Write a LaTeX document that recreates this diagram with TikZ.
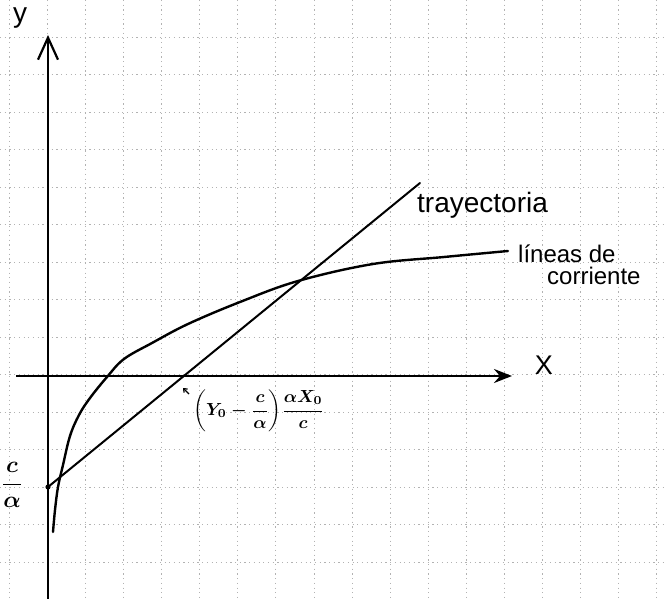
\documentclass[tikz,border=0pt]{standalone}
\usepackage{graphicx}
\usepackage{fontspec}
\setmainfont{Liberation Sans}
\usetikzlibrary{arrows.meta}
\begin{document}
\begin{tikzpicture}[x=1pt,y=1pt,
  gridline/.style={gray!60, line width=0.6pt, dash pattern=on 1.2pt off 3.5pt},
  axisline/.style={line width=2.6pt},
  curveline/.style={line width=2.4pt, line cap=round},
  trajline/.style={line width=2pt, line cap=round},
  hand/.style={inner sep=0pt}]
\useasboundingbox (0,0) rectangle (665,-599);
\fill[white] (0,0) rectangle (665,-599);
% grid
\foreach \k in {0,...,17} \draw[gridline] ({9+38.1*\k},0) -- ({9+38.1*\k},-599);
\foreach \k in {0,...,15} \draw[gridline] (0,{-37-37.5*\k}) -- (665,{-37-37.5*\k});
% axes
\coordinate (ybot) at (48,-599);
\coordinate (ytop) at (48,-35);
\draw[axisline, -{Straight Barb[length=22pt,width=20pt,line width=2.2pt]}] (ybot) -- (ytop);
\coordinate (xl) at (16,-376);
\coordinate (xr) at (512,-376);
\draw[axisline, -{Stealth[length=18pt,width=14pt,inset=6pt]}] (xl) -- (xr);
% trajectory
\coordinate (P) at (48,-487);
\coordinate (T) at (420,-183);
\draw[trajline] (P) -- (T);
\fill (P) circle (2.6);
% streamline
\draw[curveline] plot[smooth, tension=0.6] coordinates {(53,-532) (55,-510) (58,-487) (63,-465) (70,-436) (79,-415) (90,-398) (107,-377) (124,-359) (152,-343) (188,-324) (240,-302) (298,-281) (373,-264) (444,-257) (508,-251)};
% labels
\node[hand, font=\fontsize{28}{28}\selectfont] (ylab) at (20,-18) {y};
\node[hand, font=\fontsize{27}{27}\selectfont] (xlab) at (544,-365) {X};
\node[hand, anchor=base west, font=\fontsize{28}{28}\selectfont] (tlab) at (417,-213) {trayectoria};
\node[hand, anchor=north west, align=left, font=\fontsize{24}{22}\selectfont] (llab) at (518,-245) {líneas de\\\hspace*{29pt}corriente};
\node[hand] (cfrac) at (12,-485) {\scalebox{2.3}{\boldmath$\displaystyle\frac{c}{\alpha}$}};
\node[hand, anchor=west] (flab) at (193,-411) {\scalebox{1.75}{\boldmath$\displaystyle\left(Y_0-\frac{c}{\alpha}\right)\!\frac{\alpha X_0}{c}$}};
\coordinate (m1) at (189,-394);
\coordinate (m2) at (183,-388);
\draw[line width=1.2pt, -{Straight Barb[length=3pt,width=5pt]}] (m1) -- (m2);
\end{tikzpicture}
\end{document}
